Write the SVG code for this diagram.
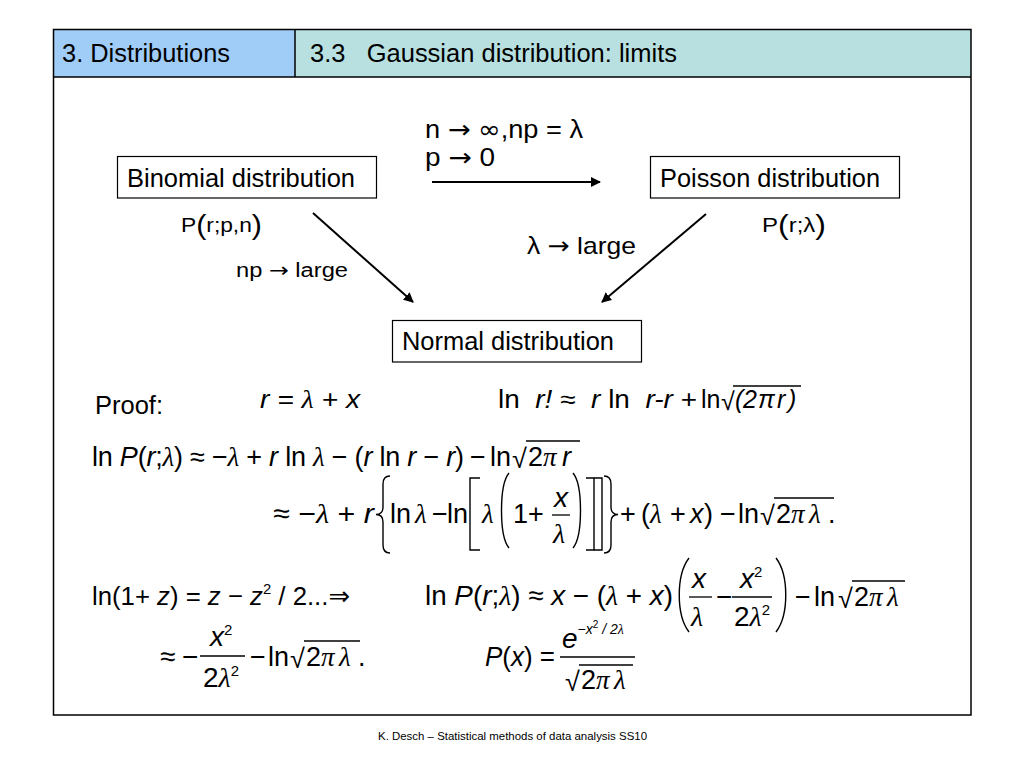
<svg xmlns="http://www.w3.org/2000/svg" width="1024" height="768" viewBox="0 0 1024 768">
<defs>
<style>
text{font-family:"Liberation Sans",Arial,sans-serif;fill:#000}
.h{font-size:26px}
.n{font-size:26px}
.m{font-size:28px}
.r{font-size:27px}
.m1{font-size:25px}
.i{font-style:italic}
.g{font-family:"Liberation Serif","Times New Roman",serif;font-style:italic}
.a{font-family:"DejaVu Sans",sans-serif;font-style:normal}
.box{fill:#fff;stroke:#000;stroke-width:1.2}
.con{stroke:#000;stroke-width:2;fill:none;marker-end:url(#ah)}
.bar{stroke:#000;stroke-width:1.3}
.del{stroke:#000;stroke-width:1.4;fill:none}
</style>
<marker id="ah" viewBox="0 0 10 10" refX="9" refY="5" markerWidth="5" markerHeight="5" orient="auto" markerUnits="strokeWidth">
<path d="M0,0 L10,5 L0,10 z" fill="#000"/>
</marker>
</defs>
<rect x="0" y="0" width="1024" height="768" fill="#fff"/>
<g id="header">
<rect x="53.5" y="29.5" width="241.5" height="47.5" fill="#a0ccf8"/>
<rect x="295" y="29.5" width="676" height="47.5" fill="#b8e0e0"/>
<rect x="53.5" y="29.5" width="917.5" height="685.5" fill="none" stroke="#000" stroke-width="1.5"/>
<line x1="53.5" y1="77" x2="971" y2="77" stroke="#000" stroke-width="1.5"/>
<line x1="295" y1="29.5" x2="295" y2="77" stroke="#000" stroke-width="1.5"/>
<text class="h" x="62" y="62" textLength="168" lengthAdjust="spacingAndGlyphs">3. Distributions</text>
<text class="h" x="310" y="62" xml:space="preserve" textLength="367" lengthAdjust="spacingAndGlyphs">3.3   Gaussian distribution: limits</text>
</g>
<g id="binomial">
<rect class="box" x="117.5" y="156.5" width="259" height="41.5"/>
<text class="n" x="127" y="187" textLength="228" lengthAdjust="spacingAndGlyphs">Binomial distribution</text>
</g>
<g id="poisson">
<rect class="box" x="650.5" y="156.5" width="249" height="41.5"/>
<text class="n" x="660" y="187" textLength="220" lengthAdjust="spacingAndGlyphs">Poisson distribution</text>
</g>
<g id="normal">
<rect class="box" x="392.5" y="320.5" width="249" height="41.5"/>
<text class="n" x="402" y="350" textLength="212" lengthAdjust="spacingAndGlyphs">Normal distribution</text>
</g>
<g id="connectors">
<line class="con" x1="432" y1="182" x2="600" y2="182"/>
<line class="con" x1="313" y1="213" x2="413" y2="302"/>
<line class="con" x1="706" y1="214" x2="602" y2="302"/>
</g>
<g id="labels">
<text style="font-size:25px" x="425" y="138" textLength="158" lengthAdjust="spacingAndGlyphs">n <tspan class="a">→</tspan> <tspan class="a">∞</tspan>,np = λ</text>
<text style="font-size:25px" x="425" y="166" textLength="70" lengthAdjust="spacingAndGlyphs">p <tspan class="a">→</tspan> 0</text>
<text style="font-size:21px" x="181" y="232" textLength="81" lengthAdjust="spacingAndGlyphs">P<tspan font-size="28" dy="2">(</tspan><tspan dy="-2">r;p,n</tspan><tspan font-size="28" dy="2">)</tspan></text>
<text style="font-size:21px" x="762" y="232" textLength="64" lengthAdjust="spacingAndGlyphs">P<tspan font-size="28" dy="2">(</tspan><tspan dy="-2">r;λ</tspan><tspan font-size="28" dy="2">)</tspan></text>
<text style="font-size:20px" x="236" y="277" textLength="112" lengthAdjust="spacingAndGlyphs">np <tspan class="a">→</tspan> large</text>
<text style="font-size:24px" x="527" y="254" textLength="109" lengthAdjust="spacingAndGlyphs">λ <tspan class="a">→</tspan> large</text>
</g>
<g id="proof">
<text class="m1" x="95" y="414" textLength="68" lengthAdjust="spacingAndGlyphs">Proof:</text>
<text class="m1 i" x="260" y="408" textLength="100" lengthAdjust="spacingAndGlyphs">r = <tspan class="g">λ</tspan> + x</text>
<text class="m1" x="498" y="408" textLength="199" lengthAdjust="spacingAndGlyphs" xml:space="preserve">ln  <tspan class="i">r!</tspan> ≈  <tspan class="i">r</tspan> ln  <tspan class="i">r-r</tspan> +</text>
<line class="bar" x1="733" y1="386" x2="801" y2="386"/>
<text class="m1" y="408"><tspan x="701">ln</tspan><tspan x="721" dy="2">√</tspan><tspan class="i" x="735" dy="-2">(</tspan><tspan class="i" x="743">2</tspan><tspan class="i" x="758">π</tspan><tspan class="i" x="777">r</tspan><tspan class="i" x="788">)</tspan></text>

<text style="font-size:27px" x="92" y="466" textLength="372">ln <tspan class="i">P</tspan>(<tspan class="i">r</tspan>;<tspan class="g">λ</tspan>) ≈ −<tspan class="g">λ</tspan> + <tspan class="i">r</tspan> ln <tspan class="g">λ</tspan> − (<tspan class="i">r</tspan> ln <tspan class="i">r</tspan> − <tspan class="i">r</tspan>)</text>
<line class="bar" x1="526" y1="441" x2="580" y2="441"/>
<text class="r" y="466"><tspan x="470">−</tspan><tspan x="490">ln</tspan><tspan x="512" dy="2">√</tspan><tspan x="528" dy="-2">2</tspan><tspan class="g" x="543">π</tspan><tspan class="i" x="562">r</tspan></text>

<text class="m" x="273" y="523" textLength="101" lengthAdjust="spacingAndGlyphs">≈ −<tspan class="g">λ</tspan> + <tspan class="i">r</tspan></text>
<path class="del" d="M390,476 Q383,476 383,484 L383,507 Q383,514.5 376,514.5 Q383,514.5 383,522 L383,545 Q383,553 390,553"/>
<text class="r" y="523"><tspan x="390">ln</tspan><tspan class="g" x="415">λ</tspan><tspan x="432">−</tspan><tspan x="447">ln</tspan><tspan class="g" x="482">λ</tspan><tspan x="513">1</tspan><tspan x="528">+</tspan></text>
<path class="del" d="M480,478 L470,478 L470,550 L480,550"/>
<path class="del" d="M509,473 C499,485 499,536 509,548"/>
<text class="m" y="507"><tspan class="i" x="554">x</tspan><tspan class="g" x="553" y="543">λ</tspan></text>
<line class="bar" x1="552" y1="515" x2="570" y2="515"/>
<path class="del" d="M573,473 C583,485 583,536 573,548"/>
<path class="del" d="M586,478 L594,478 L594,550 L586,550"/>
<path class="del" d="M594,478 L602,478 L602,550 L594,550"/>
<path class="del" d="M604,476 Q611,476 611,484 L611,507 Q611,514.5 618,514.5 Q611,514.5 611,522 L611,545 Q611,553 604,553"/>
<text class="r" y="523"><tspan x="620">+</tspan><tspan x="641">(</tspan><tspan class="g" x="650">λ</tspan><tspan x="670">+</tspan><tspan class="i" x="690">x</tspan><tspan x="704">)</tspan></text>
<line class="bar" x1="774" y1="498" x2="834" y2="498"/>
<text class="r" y="523"><tspan x="720">−</tspan><tspan x="738">ln</tspan><tspan x="760" dy="2">√</tspan><tspan x="776" dy="-2">2</tspan><tspan class="g" x="791">π</tspan><tspan class="g" x="809">λ</tspan><tspan x="828">.</tspan></text>

<text style="font-size:26px" x="92" y="605" textLength="258" lengthAdjust="spacingAndGlyphs">ln(1+ <tspan class="i">z</tspan>) = <tspan class="i">z</tspan> − <tspan class="i">z</tspan><tspan font-size="15" dy="-11">2</tspan><tspan dy="11"> / 2...</tspan><tspan class="a">⇒</tspan></text>

<text class="m" x="425" y="605" textLength="248" lengthAdjust="spacingAndGlyphs">ln <tspan class="i">P</tspan>(<tspan class="i">r</tspan>;<tspan class="g">λ</tspan>) ≈ <tspan class="i">x</tspan> − (<tspan class="g">λ</tspan> + <tspan class="i">x</tspan>)</text>
<path class="del" d="M689,558 C676,575 676,615 689,632"/>
<text class="m" y="588"><tspan class="i" x="692">x</tspan><tspan class="g" x="691" y="626">λ</tspan><tspan x="716" y="606">−</tspan><tspan class="i" x="740" y="588">x</tspan><tspan font-size="15" dy="-11">2</tspan><tspan x="734" y="626">2</tspan><tspan class="g">λ</tspan><tspan font-size="15" dy="-11">2</tspan></text>
<line class="bar" x1="689" y1="597" x2="712" y2="597"/>
<line class="bar" x1="732" y1="597" x2="772" y2="597"/>
<path class="del" d="M776,558 C789,575 789,615 776,632"/>
<line class="bar" x1="852" y1="581" x2="905" y2="581"/>
<text class="r" y="606"><tspan x="795">−</tspan><tspan x="814">ln</tspan><tspan x="838" dy="2">√</tspan><tspan x="854" dy="-2">2</tspan><tspan class="g" x="869">π</tspan><tspan class="g" x="887">λ</tspan></text>

<text class="m" y="666"><tspan x="160">≈</tspan><tspan x="182">−</tspan><tspan class="i" x="210" y="646">x</tspan><tspan font-size="15" dy="-11">2</tspan><tspan x="203" y="687">2</tspan><tspan class="g">λ</tspan><tspan font-size="15" dy="-11">2</tspan></text>
<line class="bar" x1="200" y1="656" x2="245" y2="656"/>
<line class="bar" x1="304" y1="641" x2="360" y2="641"/>
<text class="r" y="666"><tspan x="250">−</tspan><tspan x="268">ln</tspan><tspan x="290" dy="2">√</tspan><tspan x="306" dy="-2">2</tspan><tspan class="g" x="321">π</tspan><tspan class="g" x="339">λ</tspan><tspan x="358">.</tspan></text>

<text class="m" x="485" y="666" textLength="70" lengthAdjust="spacingAndGlyphs"><tspan class="i">P</tspan>(<tspan class="i">x</tspan>) =</text>
<text class="i" font-size="28" x="562" y="648">e<tspan font-size="14" dy="-14">−x</tspan><tspan font-size="10" font-style="normal" dy="-6">2</tspan><tspan font-size="14" dy="6"> / 2</tspan><tspan class="g" font-size="14">λ</tspan></text>
<line class="bar" x1="560" y1="657" x2="635" y2="657"/>
<line class="bar" x1="579" y1="665" x2="633" y2="665"/>
<text class="r" y="689"><tspan x="565" dy="2">√</tspan><tspan x="581" dy="-2">2</tspan><tspan class="g" x="596">π</tspan><tspan class="g" x="614">λ</tspan></text>
</g>
<g id="footer">
<text font-size="11" x="378" y="740" textLength="269" lengthAdjust="spacingAndGlyphs">K. Desch – Statistical methods of data analysis SS10</text>
</g>
</svg>
